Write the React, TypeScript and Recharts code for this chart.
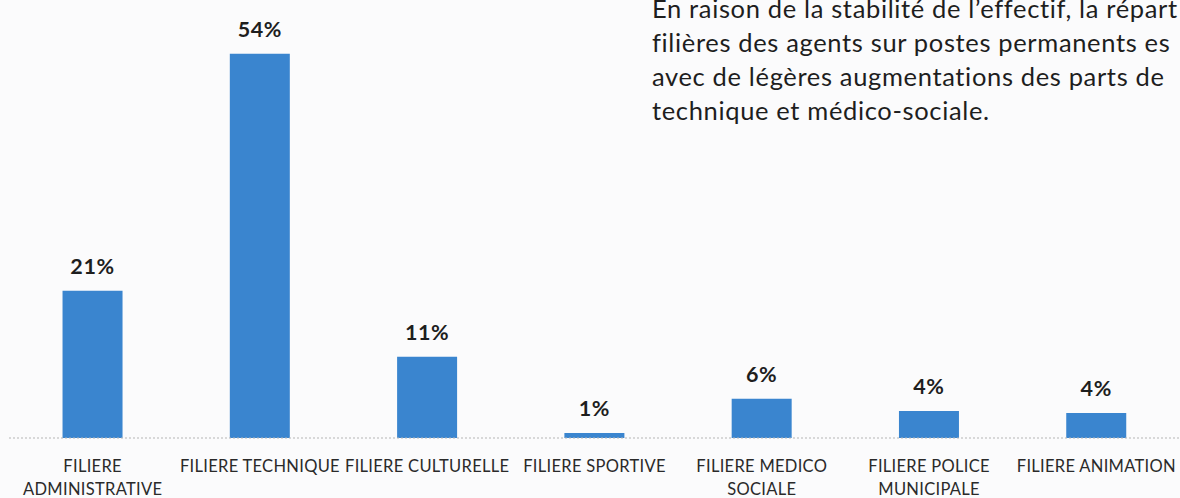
import React from "react";
import { BarChart, Bar, XAxis, YAxis, LabelList } from "recharts";

const categories = [
  "FILIERE\nADMINISTRATIVE",
  "FILIERE TECHNIQUE",
  "FILIERE CULTURELLE",
  "FILIERE SPORTIVE",
  "FILIERE MEDICO\nSOCIALE",
  "FILIERE POLICE\nMUNICIPALE",
  "FILIERE ANIMATION",
];
const shares = [20.7, 54, 11.4, 0.7, 5.5, 3.8, 3.5];
const paragraph = [
  "En raison de la stabilité de l’effectif, la répart",
  "filières des agents sur postes permanents es",
  "avec de légères augmentations des parts de",
  "technique et médico-sociale.",
];

const data = categories.map((c, i) => ({ name: c, value: shares[i] }));

const CatTick = (props: any) => {
  const { x, y, payload } = props;
  const lines = String(payload.value).split("\n");
  return (
    <g>
      {lines.map((l, i) => (
        <text
          key={i}
          x={x}
          y={y + 26 + i * 23}
          textAnchor="middle"
          fontFamily="Lato, 'Open Sans', sans-serif"
          fontSize={16.5}
          letterSpacing={0.3}
          fill="#2a2a2a"
        >
          {l}
        </text>
      ))}
    </g>
  );
};

export default function App() {
  return (
    <div
      style={{
        position: "absolute",
        left: 0,
        top: 0,
        width: 1180,
        height: 498,
        background: "#fbfbfc",
        overflow: "hidden",
      }}
    >
      <div
        style={{
          position: "absolute",
          left: 652,
          top: -9,
          whiteSpace: "nowrap",
          fontFamily: "Lato, 'Open Sans', sans-serif",
          fontSize: 25.5,
          letterSpacing: 0.65,
          lineHeight: "34px",
          color: "#1e1e1e",
        }}
      >
        {paragraph.map((p, i) => (
          <div key={i}>{p}</div>
        ))}
      </div>
      <BarChart
        width={1180}
        height={498}
        data={data}
        margin={{ top: 11, right: 0, left: 9, bottom: 0 }}
        barCategoryGap="32%"
      >
        <YAxis hide domain={[0, 60]} />
        <XAxis
          dataKey="name"
          height={60}
          interval={0}
          tickLine={false}
          axisLine={{ stroke: "#b5b5b5", strokeDasharray: "2 2" }}
          tick={<CatTick />}
        />
        <Bar dataKey="value" fill="#3a85cf" isAnimationActive={false}>
          <LabelList
            dataKey="value"
            position="top"
            offset={17}
            formatter={(v: any) => `${Math.round(Number(v))}%`}
            style={{
              fontFamily: "Lato, 'Open Sans', sans-serif",
              fontWeight: 700,
              fontSize: 21.5,
              letterSpacing: 0.6,
              fill: "#1e1e1e",
            }}
          />
        </Bar>
      </BarChart>
    </div>
  );
}
